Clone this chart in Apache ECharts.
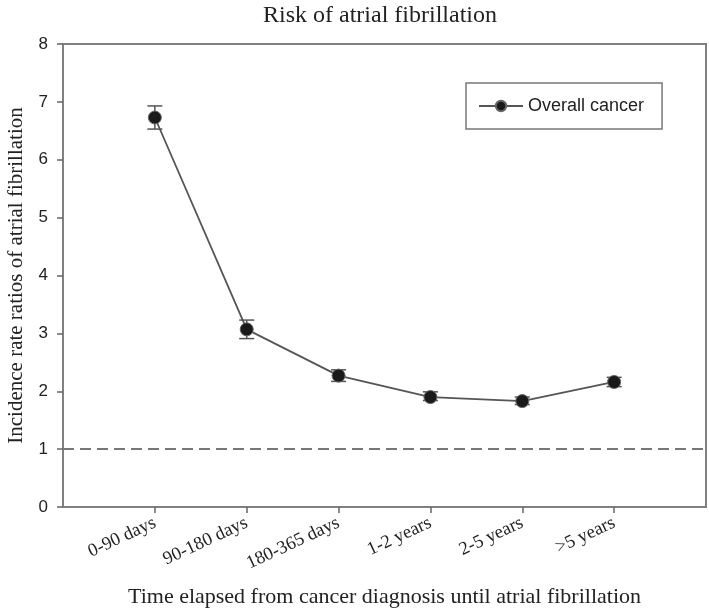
<!DOCTYPE html>
<html>
<head>
<meta charset="utf-8">
<script src="https://cdn.jsdelivr.net/npm/echarts@6/dist/echarts.min.js"></script>
<style>html,body{margin:0;padding:0;background:#fff}#c{width:709px;height:614px}</style>
</head>
<body>
<div id="c"></div>
<script>
var categories = ['0-90 days', '90-180 days', '180-365 days', '1-2 years', '2-5 years', '>5 years'];
var irr = [6.73, 3.07, 2.27, 1.90, 1.83, 2.16];
var ciLow = [6.53, 2.91, 2.17, 1.84, 1.77, 2.08];
var ciHigh = [6.93, 3.23, 2.37, 1.99, 1.90, 2.24];
var yTicks = [0, 1, 2, 3, 4, 5, 6, 7, 8];
var referenceLine = 1;

var serif = '"Liberation Serif", "Times New Roman", serif';
var sans = '"Liberation Sans", Arial, sans-serif';

var axisCats = [''].concat(categories).concat(['']);
var lineData = [null].concat(irr).concat([null]);
var errData = categories.map(function (c, i) { return [i + 1, ciLow[i], ciHigh[i]]; });

var chart = echarts.init(document.getElementById('c'));
chart.setOption({
  animation: false,
  backgroundColor: '#fff',
  title: {
    text: 'Risk of atrial fibrillation',
    left: 375, textAlign: 'center', top: -1,
    textStyle: { fontFamily: serif, fontSize: 24, fontWeight: 'normal', color: '#222' }
  },
  grid: {
    left: 63, right: 3, top: 44, bottom: 107,
    containLabel: false, outerBoundsMode: 'none',
    show: true, borderColor: '#808080', borderWidth: 2
  },
  legend: {
    left: 466, top: 83,
    data: ['Overall cancer'],
    padding: [14, 18, 14, 12],
    borderColor: '#777', borderWidth: 1.5,
    itemWidth: 44, itemHeight: 13, itemGap: 10,
    textStyle: { fontFamily: sans, fontSize: 18, color: '#222' }
  },
  xAxis: {
    type: 'category', data: axisCats, boundaryGap: false,
    name: 'Time elapsed from cancer diagnosis until atrial fibrillation',
    nameLocation: 'middle', nameGap: 79,
    nameTextStyle: { fontFamily: serif, fontSize: 22, color: '#222' },
    axisLine: { lineStyle: { color: '#808080', width: 2 } },
    axisTick: { length: 6, lineStyle: { color: '#666', width: 1.5 }, interval: function (i, v) { return v !== ''; } },
    axisLabel: { rotate: 25, margin: 15, fontFamily: serif, fontSize: 18.5, color: '#222', interval: 0 },
    splitLine: { show: false }
  },
  yAxis: {
    type: 'value', min: yTicks[0], max: yTicks[yTicks.length - 1], interval: 1,
    name: 'Incidence rate ratios of atrial fibrillation',
    nameLocation: 'middle', nameGap: 36,
    nameTextStyle: { fontFamily: serif, fontSize: 21, color: '#222' },
    axisLine: { show: true, lineStyle: { color: '#808080', width: 2 } },
    axisTick: { show: true, length: 6, lineStyle: { color: '#666', width: 1.5 } },
    axisLabel: { margin: 15, fontFamily: sans, fontSize: 17, color: '#222' },
    splitLine: { show: false }
  },
  series: [
    {
      type: 'custom',
      name: 'ci',
      data: errData,
      encode: { x: 0, y: [1, 2] },
      z: 2,
      silent: true,
      renderItem: function (params, api) {
        var x = api.value(0);
        var lo = api.coord([x, api.value(1)]);
        var hi = api.coord([x, api.value(2)]);
        var hw = 7.5;
        var st = { stroke: '#555', lineWidth: 1.5 };
        return {
          type: 'group',
          children: [
            { type: 'line', shape: { x1: lo[0], y1: lo[1], x2: hi[0], y2: hi[1] }, style: st },
            { type: 'line', shape: { x1: lo[0] - hw, y1: lo[1], x2: lo[0] + hw, y2: lo[1] }, style: st },
            { type: 'line', shape: { x1: hi[0] - hw, y1: hi[1], x2: hi[0] + hw, y2: hi[1] }, style: st }
          ]
        };
      }
    },
    {
      type: 'line',
      name: 'Overall cancer',
      data: lineData,
      z: 3,
      symbol: 'circle', symbolSize: 13,
      lineStyle: { color: '#555', width: 1.8 },
      itemStyle: { color: '#1a1a1a', borderColor: '#666', borderWidth: 1 },
      markLine: {
        silent: true, symbol: 'none', label: { show: false },
        lineStyle: { color: '#777', width: 2, type: [11, 6] },
        data: [{ yAxis: referenceLine }]
      }
    }
  ]
});
</script>
</body>
</html>
